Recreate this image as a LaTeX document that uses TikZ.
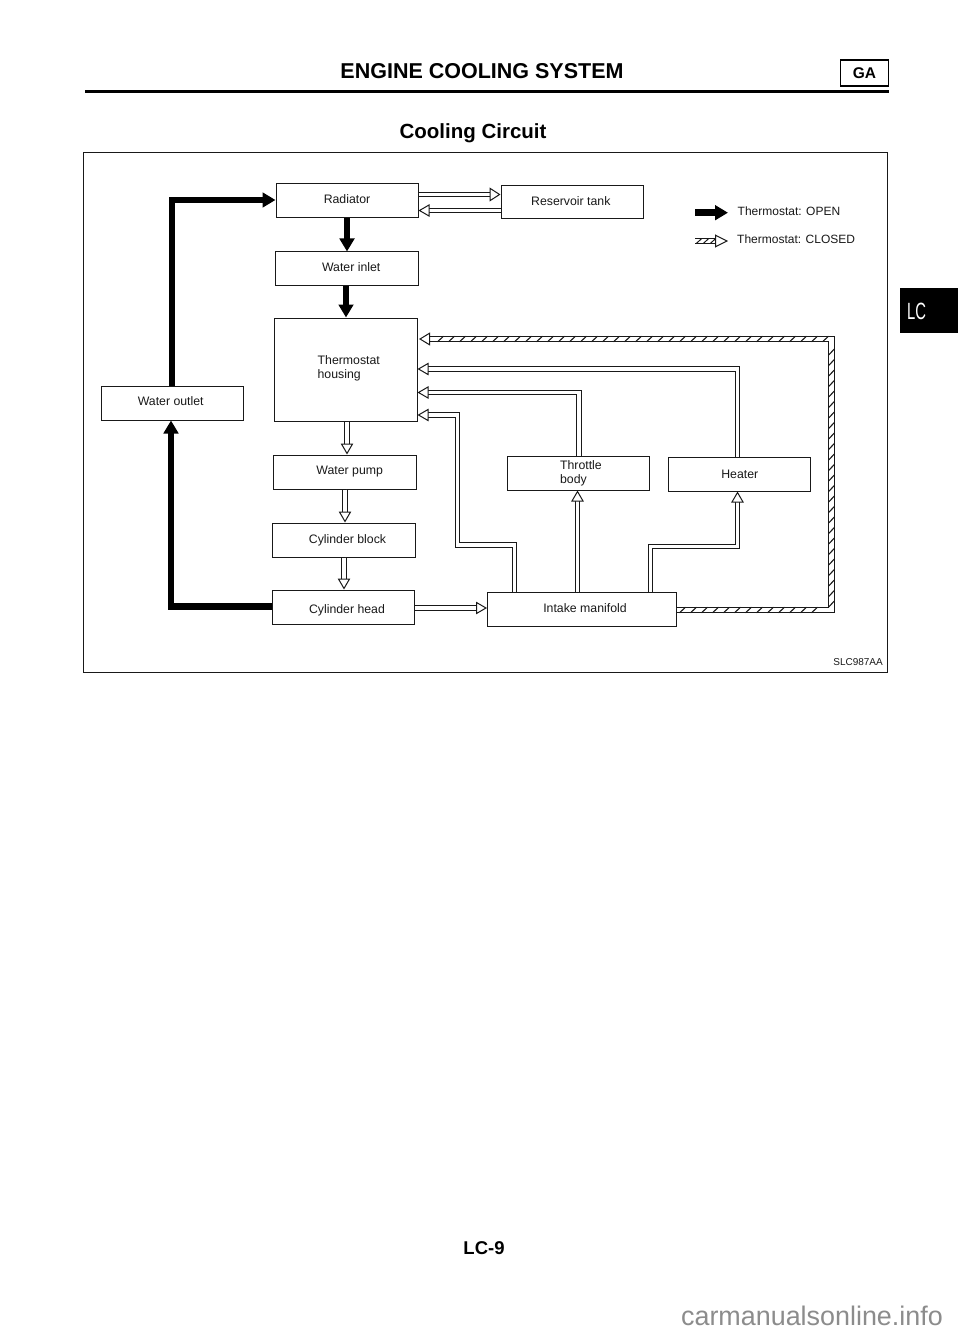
\documentclass[tikz,border=0pt]{standalone}
\usepackage{fontspec}
\setmainfont{Liberation Sans}
\usetikzlibrary{arrows.meta,decorations.markings}
\definecolor{ink}{gray}{0.1}
% #1 horizontal shift of the text centre, #2 baseline offset above the node centre
\newcommand\placed[3]{\smash{\raisebox{#2pt}{\hspace*{\dimexpr 2\dimexpr #1pt\relax\relax}#3}}}
\newcommand\twolines[2]{\begin{tabular}[t]{@{}l@{}}#1\\#2\end{tabular}}
\tikzset{
  x=1pt,y=-1pt,
  box/.style={draw=ink,line width=1pt,fill=white,inner sep=0pt,font=\fontsize{12.3}{14.2}\selectfont,text=ink},
  lbl/.style={inner sep=0pt,font=\fontsize{12}{14.5}\selectfont,text=ink},
  heavy/.style={draw=black,line width=6.5pt,line join=miter,-{Triangle[length=13pt,width=14.5pt]}},
  hollow/.style={draw=ink,line width=1pt,double=white,double distance=3.6pt,line join=miter,
    -{Triangle[open,fill=white,length=11pt,width=12.5pt,line width=1pt]}},
  hollowplain/.style={draw=ink,line width=1pt,double=white,double distance=3.6pt,line join=miter},
  hatchh/.style={decorate,decoration={markings,
    mark=between positions 6pt and -14pt step 11pt with {\draw[ink,line width=1.1pt] (-3pt,-2.8pt)--(3pt,2.8pt);}}},
  hatchv/.style={decorate,decoration={markings,
    mark=between positions 6pt and -4pt step 10.5pt with {\draw[ink,line width=1.1pt] (-3pt,2.8pt)--(3pt,-2.8pt);}}},
  hatchk/.style={decorate,decoration={markings,
    mark=between positions 4pt and -12pt step 7pt with {\draw[ink,line width=1pt] (-2.5pt,-2.3pt)--(2.5pt,2.3pt);}}},
}
\begin{document}
\begin{tikzpicture}
\useasboundingbox (0,0) rectangle (960,1332);
\fill[white] (0,0) rectangle (960,1332);
% header
\node[inner sep=0pt,anchor=base,font=\bfseries\fontsize{21.5}{24}\selectfont] (title) at (482,79) {ENGINE COOLING SYSTEM};
\node[inner sep=0pt,anchor=base,font=\bfseries\fontsize{20.5}{24}\selectfont] (sub) at (473,139) {Cooling Circuit};
\coordinate (ruleL) at (85,91.5); \coordinate (ruleR) at (889,91.5);
\draw[line width=2.6pt] (ruleL)--(ruleR);
\node[draw,line width=1.5pt,inner sep=0pt,minimum width=48pt,minimum height=26pt,font=\bfseries\fontsize{15.5}{17}\selectfont] (ga) at (864.5,73) {GA};
% frame
\node[draw=ink,line width=1pt,minimum width=803.5pt,minimum height=519.5pt,inner sep=0pt] (frame) at (485.5,412.5) {};
% boxes
\node[box,minimum width=142pt,minimum height=34pt] (rad) at (347,201) {\placed{0}{-2.5}{Radiator}};
\node[box,minimum width=143pt,minimum height=33pt] (inlet) at (346.5,268.5) {\placed{4.7}{-3.2}{Water inlet}};
\node[box,minimum width=142.5pt,minimum height=103pt] (therm) at (345.75,369.5) {\placed{3}{5.5}{\twolines{Thermostat}{housing}}};
\node[box,minimum width=142pt,minimum height=34pt] (outlet) at (172,403) {\placed{-1.3}{-2.5}{Water outlet}};
\node[box,minimum width=143pt,minimum height=34pt] (pump) at (344.5,472) {\placed{5.2}{-2}{Water pump}};
\node[box,minimum width=142.5pt,minimum height=34pt] (block) at (343.75,540) {\placed{3.75}{-3.3}{Cylinder block}};
\node[box,minimum width=142.5pt,minimum height=34pt] (head) at (343.25,607) {\placed{3.75}{-6}{Cylinder head}};
\node[box,minimum width=142pt,minimum height=33pt] (res) at (572,202.5) {\placed{-1.2}{-3.5}{Reservoir tank}};
\node[box,minimum width=142.5pt,minimum height=34pt] (thr) at (578.25,473) {\placed{2.7}{3.3}{\twolines{Throttle}{body}}};
\node[box,minimum width=142pt,minimum height=34pt] (heat) at (739,474) {\placed{0.8}{-4.3}{Heater}};
\node[box,minimum width=188.5pt,minimum height=34pt] (man) at (581.75,609) {\placed{3.25}{-3.7}{Intake manifold}};
% heavy connectors
\draw[heavy] (head.west |- 0,606.7) -| (outlet.south -| 171,0);
\draw[heavy] (outlet.north -| 172,0) |- (rad.west |- 0,200);
\draw[heavy] (rad.south -| 347,0) -- (inlet.north -| 347,0);
\draw[heavy] (inlet.south -| 346,0) -- (therm.north -| 346,0);
% hollow connectors
\draw[hollow,-{Triangle[open,fill=white,length=11pt,width=14pt,line width=1pt]}] (rad.east |- 0,194.5) -- (res.west |- 0,194.5);
\draw[hollow] (res.west |- 0,210.5) -- (rad.east |- 0,210.5);
\draw[hollow] (therm.south -| 347,0) -- (pump.north -| 347,0);
\draw[hollow] (pump.south -| 345,0) -- (block.north -| 345,0);
\draw[hollow] (block.south -| 344,0) -- (head.north -| 344,0);
\draw[hollow] (head.east |- 0,608) -- (man.west |- 0,608);
\draw[hollow] (man.north -| 577.5,0) -- (thr.south -| 577.5,0);
\draw[hollow] (man.north -| 650.5,0) |- (737.5,546.5) -- (heat.south -| 737.5,0);
\draw[hollow] (heat.north -| 737.5,0) |- (therm.east |- 0,369);
\draw[hollow] (thr.north -| 579,0) |- (therm.east |- 0,392.5);
\draw[hollow] (man.north -| 514.5,0) |- (457.5,545) |- (therm.east |- 0,415);
% hatched connector
\coordinate (hc1) at (831.5,610); \coordinate (hc2) at (831.5,339); \coordinate (htip) at (419,339);
\draw[hollowplain,-{Triangle[open,fill=white,length=11pt,width=13pt,line width=1pt]},double distance=4.6pt] (man.east |- hc1) -- (hc1) -- (hc2) -- (htip);
\path[hatchh] (man.east |- hc1) -- (hc1);
\path[hatchv] (hc1) -- (hc2);
\path[hatchh] (hc2) -- (htip);
% legend
\coordinate (k1a) at (695,212.7); \coordinate (k1b) at (728,212.7);
\coordinate (k2a) at (695,241); \coordinate (k2b) at (728,241);
\draw[heavy] (k1a) -- (k1b);
\draw[hollowplain,-{Triangle[open,fill=white,length=13pt,width=13pt,line width=1pt]},double distance=4pt] (k2a) -- (k2b);
\path[hatchk] (k2a) -- (k2b);
\node[lbl,anchor=base west] (kt1) at (737.5,216) {Thermostat: OPEN};
\node[lbl,anchor=base west] (kt2) at (737,243.3) {Thermostat: CLOSED};
\node[inner sep=0pt,anchor=base east,font=\fontsize{10}{12}\selectfont,text=ink] (code) at (883,665.5) {SLC987AA};
% tab, footer
\node[fill=black,minimum width=58pt,minimum height=45pt,inner sep=0pt] (tab) at (929,310.5) {};
\node[inner sep=0pt,text=white,font=\fontsize{23.5}{26}\selectfont] (tabt) at (916.5,311.5) {\scalebox{0.63}[1]{LC}};
\node[inner sep=0pt,font=\bfseries\fontsize{18.5}{22}\selectfont] (pg) at (484,1248) {LC-9};
\node[inner sep=0pt,text=black!45,font=\fontsize{26.9}{30}\selectfont,anchor=east] (wm) at (943,1316) {carmanualsonline.info};
\end{tikzpicture}
\end{document}
